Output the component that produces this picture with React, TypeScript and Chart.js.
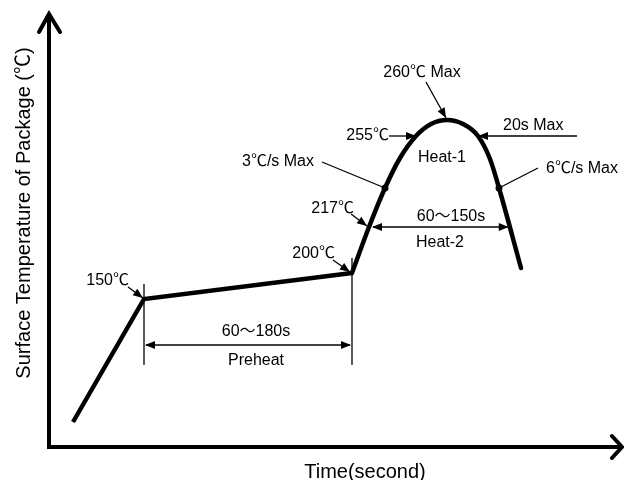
import React, { useEffect, useRef } from "react";
import { Chart, registerables } from "chart.js";

Chart.register(...registerables);

// Schematic reflow profile (time units / temperature units of the drawing)
const rampTime = [24, 95, 303];
const rampTemp = [25, 148, 174];
const reflowTime = [303, 320, 336, 351, 367, 382, 398, 414, 429, 441, 450, 472];
const reflowTemp = [174, 220, 259, 289, 311, 323, 327, 323, 311, 288, 259, 179];

const xTitle = "Time(second)";
const yTitle = "Surface Temperature of Package (℃)";
const peakLabel = "260℃ Max";
const limitLabel = "255℃";
const limitTimeLabel = "20s Max";
const heat1Label = "Heat-1";
const riseLabel = "3℃/s Max";
const fallLabel = "6℃/s Max";
const liquidusLabel = "217℃";
const heat2TimeLabel = "60～150s";
const heat2Label = "Heat-2";
const preheatStartLabel = "150℃";
const preheatEndLabel = "200℃";
const preheatTimeLabel = "60～180s";
const preheatLabel = "Preheat";

const FONT = '"Liberation Sans", Arial, "Noto Sans CJK SC", sans-serif';

function head(ctx: CanvasRenderingContext2D, tx: number, ty: number, fx: number, fy: number, len = 10, half = 4) {
  const a = Math.atan2(ty - fy, tx - fx);
  ctx.beginPath();
  ctx.moveTo(tx, ty);
  ctx.lineTo(tx - len * Math.cos(a) + half * Math.sin(a), ty - len * Math.sin(a) - half * Math.cos(a));
  ctx.lineTo(tx - len * Math.cos(a) - half * Math.sin(a), ty - len * Math.sin(a) + half * Math.cos(a));
  ctx.closePath();
  ctx.fill();
}

function line(ctx: CanvasRenderingContext2D, x1: number, y1: number, x2: number, y2: number) {
  ctx.beginPath();
  ctx.moveTo(x1, y1);
  ctx.lineTo(x2, y2);
  ctx.stroke();
}

function arrow(ctx: CanvasRenderingContext2D, x1: number, y1: number, x2: number, y2: number) {
  line(ctx, x1, y1, x2, y2);
  head(ctx, x2, y2, x1, y1);
}

const overlay = {
  id: "overlay",
  afterDatasetsDraw(chart: any) {
    const { ctx, scales, chartArea: ca } = chart;
    const X = (t: number) => scales.x.getPixelForValue(t);
    const Y = (v: number) => scales.y.getPixelForValue(v);
    const pt = (t: number, v: number) => ({ x: X(t), y: Y(v) });

    ctx.save();
    ctx.strokeStyle = "#000";
    ctx.fillStyle = "#000";

    // axes
    ctx.lineWidth = 4;
    ctx.lineCap = "butt";
    ctx.lineJoin = "miter";
    ctx.beginPath();
    ctx.moveTo(ca.left, ca.top + 1);
    ctx.lineTo(ca.left, ca.bottom);
    ctx.lineTo(ca.right - 1, ca.bottom);
    ctx.stroke();
    ctx.lineCap = "round";
    ctx.beginPath();
    ctx.moveTo(ca.left - 10, ca.top + 19);
    ctx.lineTo(ca.left, ca.top + 1);
    ctx.lineTo(ca.left + 11, ca.top + 19);
    ctx.stroke();
    ctx.beginPath();
    ctx.moveTo(ca.right - 11, ca.bottom - 11);
    ctx.lineTo(ca.right - 1, ca.bottom);
    ctx.lineTo(ca.right - 11, ca.bottom + 11);
    ctx.stroke();

    // axis titles
    ctx.font = "20px " + FONT;
    ctx.textAlign = "center";
    ctx.textBaseline = "alphabetic";
    ctx.fillText(xTitle, 365, 478);
    ctx.save();
    ctx.translate(30, 213);
    ctx.rotate(-Math.PI / 2);
    ctx.fillText(yTitle, 0, 0);
    ctx.restore();

    // anchors taken from the data
    const n = reflowTime.length;
    const C1 = pt(rampTime[1], rampTemp[1]);
    const C2 = pt(rampTime[2], rampTemp[2]);
    const A = pt(reflowTime[1], reflowTemp[1]);
    const D1 = pt(reflowTime[2], reflowTemp[2]);
    const L = pt(reflowTime[4], reflowTemp[4]);
    const P = pt(reflowTime[6], reflowTemp[6]);
    const R = pt(reflowTime[8], reflowTemp[8]);
    const D2 = pt(reflowTime[n - 2], reflowTemp[n - 2]);
    const E = pt(reflowTime[n - 1], reflowTemp[n - 1]);
    const f = (A.y - D2.y) / (E.y - D2.y);
    const B = { x: D2.x + f * (E.x - D2.x), y: A.y };

    ctx.lineWidth = 1.3;
    ctx.lineCap = "butt";
    ctx.font = "16px " + FONT;

    // preheat
    line(ctx, C1.x, C1.y - 15, C1.x, C1.y + 66);
    line(ctx, C2.x, C2.y - 15, C2.x, C1.y + 66);
    const py = C1.y + 46;
    line(ctx, C1.x + 2, py, C2.x - 2, py);
    head(ctx, C1.x + 1, py, C2.x, py);
    head(ctx, C2.x - 1, py, C1.x, py);
    ctx.textAlign = "center";
    ctx.fillText(preheatTimeLabel, 256, py - 9);
    ctx.fillText(preheatLabel, 256, py + 20);

    ctx.textAlign = "right";
    ctx.fillText(preheatStartLabel, C1.x - 15, C1.y - 14);
    arrow(ctx, C1.x - 16, C1.y - 12, C1.x - 1, C1.y - 1);
    ctx.fillText(preheatEndLabel, C2.x - 17, C2.y - 15);
    arrow(ctx, C2.x - 19, C2.y - 13, C2.x - 2, C2.y - 1);

    // 217 / heat-2
    ctx.fillText(liquidusLabel, A.x - 15, A.y - 14);
    arrow(ctx, A.x - 18, A.y - 13, A.x - 2, A.y - 1);
    line(ctx, A.x + 4, A.y, B.x - 2, B.y);
    head(ctx, A.x + 3, A.y, B.x, B.y);
    head(ctx, B.x - 1, B.y, A.x, A.y);
    ctx.textAlign = "center";
    ctx.fillText(heat2TimeLabel, 451, A.y - 6);
    ctx.fillText(heat2Label, 440, A.y + 20);

    // 255 / heat-1
    arrow(ctx, L.x - 27, L.y, L.x, L.y);
    arrow(ctx, R.x + 99, R.y, R.x, R.y);
    ctx.textAlign = "right";
    ctx.fillText(limitLabel, L.x - 27, L.y + 4);
    ctx.textAlign = "left";
    ctx.fillText(limitTimeLabel, R.x + 25, R.y - 6);
    ctx.textAlign = "center";
    ctx.fillText(heat1Label, 442, L.y + 26);

    // peak
    ctx.fillText(peakLabel, P.x - 25, P.y - 43);
    arrow(ctx, P.x - 21, P.y - 38, P.x - 1, P.y - 2);

    // slopes
    line(ctx, D1.x - 63, D1.y - 26, D1.x, D1.y);
    line(ctx, D2.x + 39, D2.y - 20, D2.x, D2.y);
    ctx.beginPath();
    ctx.arc(D1.x, D1.y, 3.5, 0, Math.PI * 2);
    ctx.arc(D2.x, D2.y, 3.5, 0, Math.PI * 2);
    ctx.fill();
    ctx.textAlign = "right";
    ctx.fillText(riseLabel, D1.x - 71, D1.y - 22);
    ctx.textAlign = "left";
    ctx.fillText(fallLabel, D2.x + 47, D2.y - 15);

    ctx.restore();
  },
};

export default function App() {
  const ref = useRef<HTMLCanvasElement | null>(null);
  useEffect(() => {
    if (!ref.current) return;
    const chart = new Chart(ref.current, {
      type: "line",
      data: {
        datasets: [
          {
            data: rampTime.map((t, i) => ({ x: t, y: rampTemp[i] })),
            borderColor: "#000",
            borderWidth: 4.5,
            pointRadius: 0,
            tension: 0,
            borderJoinStyle: "miter",
            borderCapStyle: "butt",
            clip: false,
          } as any,
          {
            data: reflowTime.map((t, i) => ({ x: t, y: reflowTemp[i] })),
            borderColor: "#000",
            borderWidth: 4.5,
            pointRadius: 0,
            cubicInterpolationMode: "monotone",
            borderCapStyle: "round",
            clip: false,
          } as any,
        ],
      },
      options: {
        responsive: false,
        animation: false,
        devicePixelRatio: 1,
        layout: { padding: { left: 49, right: 1, top: 13, bottom: 33 } },
        plugins: { legend: { display: false }, tooltip: { enabled: false } },
        scales: {
          x: { type: "linear", min: 0, max: 574, display: false },
          y: { type: "linear", min: 0, max: 434, display: false },
        },
      },
      plugins: [overlay],
    });
    return () => chart.destroy();
  }, []);
  return (
    <div style={{ position: "fixed", left: 0, top: 0, width: 624, height: 480, background: "#fff" }}>
      <canvas ref={ref} width={624} height={480} />
    </div>
  );
}
